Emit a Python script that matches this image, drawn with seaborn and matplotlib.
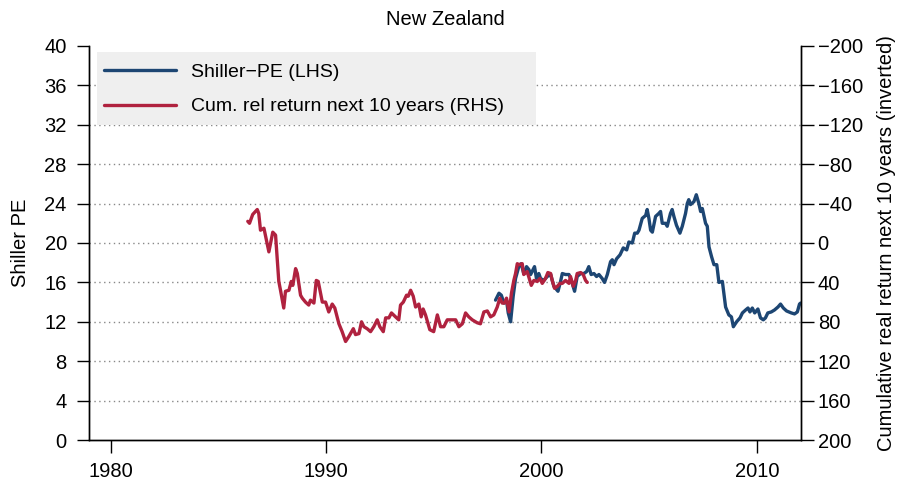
import numpy as np
import pandas as pd
import matplotlib
matplotlib.use("Agg")
import matplotlib.pyplot as plt
from matplotlib.lines import Line2D
from matplotlib.patches import Rectangle
import seaborn as sns

# ---------------- data ----------------
pe_years = [1997.87, 1998.03, 1998.14, 1998.26, 1998.38, 1998.46, 1998.57, 1998.69, 1998.80, 1998.95,
            1999.06, 1999.18, 1999.31, 1999.42, 1999.50, 1999.68, 1999.77, 1999.88, 1999.96, 2000.11,
            2000.27, 2000.43, 2000.58, 2000.77, 2000.89, 2000.97, 2001.12, 2001.28, 2001.39, 2001.54,
            2001.66, 2001.82, 2001.97, 2002.10, 2002.20, 2002.31, 2002.44, 2002.56, 2002.67, 2002.82,
            2002.93, 2003.06, 2003.21, 2003.29, 2003.37, 2003.49, 2003.65, 2003.80, 2003.96, 2004.06,
            2004.22, 2004.33, 2004.45, 2004.53, 2004.68, 2004.84, 2004.91, 2004.99, 2005.07, 2005.15,
            2005.30, 2005.45, 2005.53, 2005.61, 2005.76, 2005.84, 2005.99, 2006.07, 2006.15, 2006.27,
            2006.43, 2006.54, 2006.69, 2006.77, 2006.84, 2006.92, 2007.08, 2007.19, 2007.31, 2007.39,
            2007.47, 2007.62, 2007.70, 2007.78, 2007.90, 2008.01, 2008.14, 2008.24, 2008.40, 2008.55,
            2008.70, 2008.82, 2008.91, 2009.06, 2009.22, 2009.33, 2009.48, 2009.59, 2009.68, 2009.79,
            2009.90, 2010.05, 2010.17, 2010.30, 2010.40, 2010.51, 2010.67, 2010.82, 2010.98, 2011.10,
            2011.23, 2011.38, 2011.60, 2011.75, 2011.88, 2011.98, 2012.03]
pe_values = [14.2, 14.9, 14.7, 13.9, 14.2, 12.9, 12.0, 14.6, 16.4, 17.6,
             17.9, 16.9, 17.6, 17.3, 16.8, 17.6, 16.4, 16.9, 16.4, 16.2,
             16.6, 16.8, 15.6, 15.1, 16.1, 16.9, 16.8, 16.8, 16.2, 15.1,
             16.6, 16.9, 16.9, 17.1, 17.6, 16.8, 16.9, 16.6, 16.8, 16.4,
             16.0, 16.8, 18.1, 18.3, 17.8, 18.4, 18.8, 19.5, 19.3, 20.1,
             20.0, 21.0, 21.0, 21.3, 22.5, 22.8, 23.4, 22.5, 21.3, 21.1,
             22.7, 23.0, 23.2, 22.0, 22.0, 21.7, 23.0, 23.4, 22.7, 21.8,
             21.0, 21.7, 23.0, 24.0, 24.4, 23.9, 24.2, 24.9, 24.0, 23.2,
             23.5, 22.0, 21.7, 19.6, 18.6, 17.8, 17.8, 16.0, 16.1, 13.5,
             12.7, 12.5, 11.5, 12.0, 12.4, 12.9, 13.2, 13.4, 13.0, 13.4,
             12.9, 13.3, 12.4, 12.2, 12.4, 12.9, 13.0, 13.2, 13.5, 13.8,
             13.4, 13.1, 12.9, 12.8, 13.0, 13.8, 13.9]

ret_years = [1986.37, 1986.45, 1986.60, 1986.81, 1986.88, 1986.96, 1987.12, 1987.35, 1987.53, 1987.66,
             1987.81, 1987.89, 1988.04, 1988.12, 1988.28, 1988.39, 1988.46, 1988.59, 1988.67, 1988.82,
             1988.90, 1989.05, 1989.20, 1989.28, 1989.44, 1989.55, 1989.64, 1989.83, 1989.98, 1990.13,
             1990.29, 1990.41, 1990.60, 1990.75, 1990.91, 1991.06, 1991.27, 1991.37, 1991.53, 1991.65,
             1991.76, 1991.91, 1992.07, 1992.22, 1992.38, 1992.50, 1992.66, 1992.77, 1992.92, 1993.04,
             1993.23, 1993.38, 1993.46, 1993.59, 1993.74, 1993.82, 1993.93, 1994.05, 1994.16, 1994.31,
             1994.42, 1994.51, 1994.62, 1994.82, 1995.00, 1995.17, 1995.32, 1995.47, 1995.63, 1995.86,
             1996.02, 1996.17, 1996.33, 1996.48, 1996.63, 1996.79, 1997.02, 1997.17, 1997.33, 1997.49,
             1997.64, 1997.79, 1997.95, 1998.07, 1998.18, 1998.29, 1998.38, 1998.50, 1998.61, 1998.72,
             1998.80, 1998.88, 1998.95, 1999.11, 1999.18, 1999.34, 1999.53, 1999.65, 1999.81, 1999.93,
             2000.04, 2000.19, 2000.30, 2000.43, 2000.50, 2000.61, 2000.74, 2000.86, 2000.97, 2001.12,
             2001.28, 2001.35, 2001.48, 2001.59, 2001.66, 2001.82, 2001.94, 2002.05, 2002.13]
ret_values = [-22, -20, -29, -34, -30, -13, -15, 9, -11, -8,
              39, 48, 66, 49, 48, 39, 43, 26, 31, 53,
              56, 60, 63, 58, 61, 38, 39, 60, 60, 70,
              62, 66, 82, 90, 100, 95, 87, 93, 92, 80,
              85, 87, 90, 85, 78, 85, 90, 76, 76, 71,
              75, 78, 63, 60, 53, 54, 48, 54, 65, 62,
              75, 67, 73, 88, 90, 73, 85, 85, 78, 78,
              78, 85, 82, 71, 75, 78, 81, 82, 70, 69,
              75, 73, 65, 56, 61, 61, 56, 70, 51, 38,
              31, 21, 22, 21, 32, 29, 43, 38, 39, 36,
              41, 36, 30, 31, 38, 46, 44, 41, 41, 38,
              41, 34, 44, 38, 31, 30, 32, 38, 40]

left_ticks = [0, 4, 8, 12, 16, 20, 24, 28, 32, 36, 40]
right_ticks = [-200, -160, -120, -80, -40, 0, 40, 80, 120, 160, 200]
x_ticks = [1980, 1990, 2000, 2010]

title = "New Zealand"
label_pe = "Shiller\u2212PE (LHS)"
label_ret = "Cum. rel return next 10 years (RHS)"

# ---------------- style ----------------
sns.set_style("white")
plt.rcParams['font.family'] = ['Liberation Sans', 'DejaVu Sans']
plt.rcParams['axes.unicode_minus'] = True
plt.rcParams['text.color'] = 'black'
plt.rcParams['axes.labelcolor'] = 'black'

blue = "#1d4673"
red = "#b0223f"
lw = 2.4

pe_df = pd.DataFrame({"year": pe_years, "pe": pe_values})
ret_df = pd.DataFrame({"year": ret_years, "ret": ret_values})

W, H = 899, 488
L, R, T, B = 89, 801, 46, 440
fig = plt.figure(figsize=(W / 100, H / 100), dpi=100)
ax = fig.add_axes([L / W, 1 - B / H, (R - L) / W, (B - T) / H])
ax2 = ax.twinx()

sns.lineplot(data=pe_df, x="year", y="pe", ax=ax, color=blue, linewidth=lw,
             estimator=None, sort=False)
sns.lineplot(data=ret_df, x="year", y="ret", ax=ax2, color=red, linewidth=lw,
             estimator=None, sort=False)

ax.set_xlim(1979.0, 2012.05)
ax.set_ylim(0, 40)
ax2.set_ylim(200, -200)

ax.set_yticks(left_ticks)
ax2.set_yticks(right_ticks)
ax.set_xticks(x_ticks)

for y in left_ticks[1:-1]:
    ax.axhline(y, color="#888888", linestyle=(0, (1, 2.5)), linewidth=1.0, zorder=0)

fs = 14.5
lfs = 14
ax.tick_params(axis="both", direction="out", length=9, width=1, colors="black",
               labelsize=fs, left=True, bottom=True, pad=7)
ax2.tick_params(axis="y", direction="out", length=9, width=1, colors="black",
                labelsize=fs, right=True, pad=3)

for a in (ax, ax2):
    a.spines["top"].set_visible(False)
    for s in ("left", "right", "bottom"):
        a.spines[s].set_color("black")
        a.spines[s].set_linewidth(1.0)

ax.set_xlabel("")
ax.set_ylabel("Shiller PE", fontsize=fs, labelpad=10)
ax2.set_ylabel("Cumulative real return next 10 years (inverted)", fontsize=fs, labelpad=10)
ax.set_title(title, fontsize=fs, pad=15)

# legend background box (pixel extents converted to axes fraction)
bx0, bx1, by0, by1 = 97, 536, 52, 125
ax2.add_patch(Rectangle(((bx0 - L) / (R - L), 1 - (by1 - T) / (B - T)),
                        (bx1 - bx0) / (R - L), (by1 - by0) / (B - T),
                        transform=ax2.transAxes, facecolor="#efefef",
                        edgecolor="none", zorder=1))

handles = [Line2D([0], [0], color=blue, linewidth=lw),
           Line2D([0], [0], color=red, linewidth=lw)]
leg = ax2.legend(handles, [label_pe, label_ret], loc="upper left",
                 bbox_to_anchor=((104 - L) / (R - L), 1 - (63 - T) / (B - T)),
                 frameon=False, fontsize=lfs,
                 handlelength=3.7, handletextpad=0.75, labelspacing=0.88,
                 borderpad=0, borderaxespad=0)

fig.savefig("out.png", dpi=100)
